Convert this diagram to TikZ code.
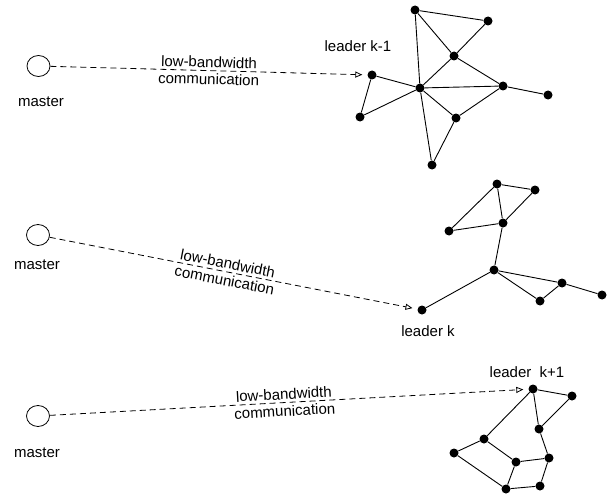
\documentclass[tikz,border=0pt]{standalone}
\usepackage{fontspec}
\setmainfont{Liberation Sans}
\usetikzlibrary{arrows.meta,shapes.geometric}

\begin{document}
\begin{tikzpicture}[x=1pt,y=-1pt,
    vertex/.style={circle,fill=black,inner sep=0pt,minimum size=9pt},
    masternode/.style={ellipse,draw,line width=0.8pt,minimum width=23pt,minimum height=21pt,inner sep=0pt},
    link/.style={line width=0.9pt},
    comm/.style={line width=0.8pt,dash pattern=on 6pt off 4pt,-{Triangle[open,length=7pt,width=6pt]},shorten >=5pt},
    lbl/.style={font=\fontsize{15}{17}\selectfont,inner sep=0pt},
    commlbl/.style={lbl,align=center,midway,sloped}]
  \useasboundingbox (0,0) rectangle (616,495);

  % Masters
  \node[masternode] (m1) at (38.5,66) {};
  \node[masternode] (m2) at (38,235) {};
  \node[masternode] (m3) at (38,416) {};
  \node[lbl] (ml1) at (41,102) {master};
  \node[lbl] (ml2) at (37,265) {master};
  \node[lbl] (ml3) at (37,453) {master};

  % Group k-1
  \node[vertex] (a1) at (415,10) {};
  \node[vertex] (a2) at (488,21) {};
  \node[vertex] (a3) at (454,56) {};
  \node[vertex] (l1) at (372,75) {};
  \node[vertex] (a4) at (420,88) {};
  \node[vertex] (a5) at (503,86) {};
  \node[vertex] (a6) at (548,95) {};
  \node[vertex] (a7) at (360,117) {};
  \node[vertex] (a8) at (456,118) {};
  \node[vertex] (a9) at (432,165) {};
  \draw[link] (a1) -- (a2) (a1) -- (a3) (a2) -- (a3) (a1) -- (a4)
              (a3) -- (a4) (a3) -- (a5) (a4) -- (a5) (a5) -- (a6)
              (l1) -- (a4) (l1) -- (a7) (a7) -- (a4) (a4) -- (a8)
              (a8) -- (a5) (a4) -- (a9) (a8) -- (a9);
  \node[lbl] (t1) at (358,46) {leader k-1};

  % Group k
  \node[vertex] (b1) at (497,184) {};
  \node[vertex] (b2) at (535,190) {};
  \node[vertex] (b3) at (503,223) {};
  \node[vertex] (b4) at (449,231) {};
  \node[vertex] (b5) at (494,270) {};
  \node[vertex] (b6) at (562,283) {};
  \node[vertex] (b7) at (540,301) {};
  \node[vertex] (b8) at (602,295) {};
  \node[vertex] (l2) at (422,310) {};
  \draw[link] (b1) -- (b2) (b1) -- (b3) (b1) -- (b4) (b4) -- (b3)
              (b2) -- (b3) (b3) -- (b5) (b5) -- (l2) (b5) -- (b6)
              (b5) -- (b7) (b7) -- (b6) (b6) -- (b8);
  \node[lbl] (t2) at (428,331) {leader k};

  % Group k+1
  \node[vertex] (l3) at (533,389) {};
  \node[vertex] (c1) at (572,396) {};
  \node[vertex] (c2) at (539,429) {};
  \node[vertex] (c3) at (484,439) {};
  \node[vertex] (c4) at (454,453) {};
  \node[vertex] (c5) at (516,462) {};
  \node[vertex] (c6) at (549,458) {};
  \node[vertex] (c7) at (506,489) {};
  \node[vertex] (c8) at (540,486) {};
  \draw[link] (l3) -- (c1) (l3) -- (c2) (c1) -- (c2) (l3) -- (c3)
              (c3) -- (c4) (c3) -- (c5) (c4) -- (c7) (c5) -- (c6)
              (c5) -- (c7) (c2) -- (c6) (c6) -- (c8) (c7) -- (c8);
  \node[lbl] (t3) at (527,372) {leader~~k+1};

  % Communication
  \draw[comm] (m1) -- (l1) node[commlbl] {low-bandwidth\\communication};
  \draw[comm] (m2) -- (l2) node[commlbl,pos=0.48] {low-bandwidth\\communication};
  \draw[comm] (m3) -- (l3) node[commlbl,pos=0.49] {low-bandwidth\\communication};
\end{tikzpicture}
\end{document}
